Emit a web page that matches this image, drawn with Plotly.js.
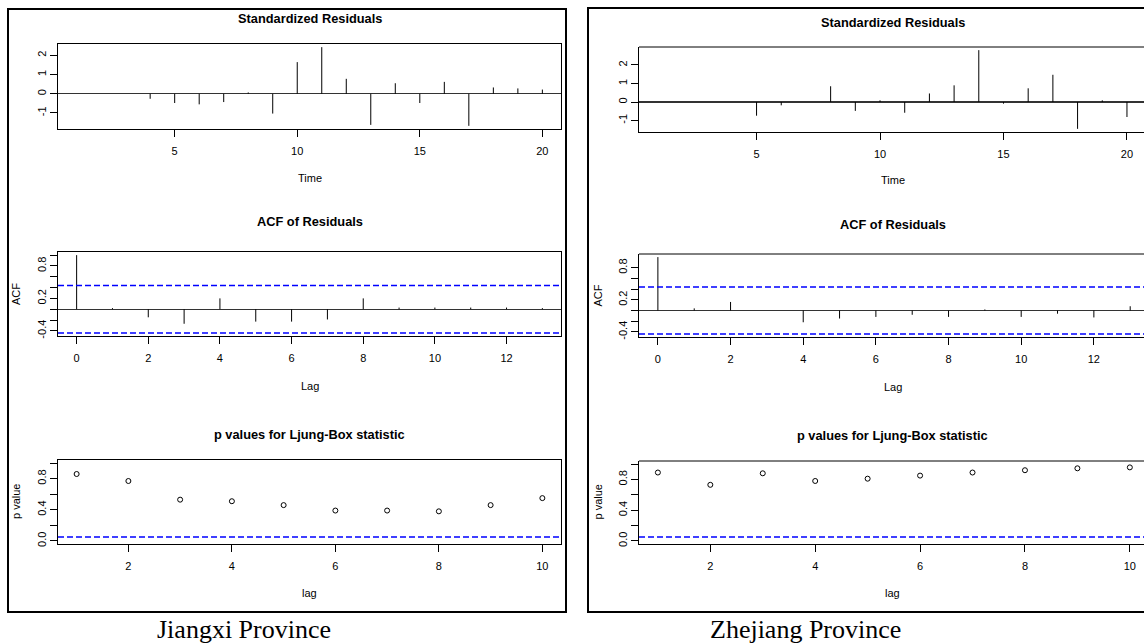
<!DOCTYPE html>
<html>
<head>
<meta charset="utf-8">
<script src="https://cdn.plot.ly/plotly-3.0.1.min.js"></script>
<style>
html,body{margin:0;padding:0;background:#fff;}
#chart{width:1144px;height:644px;}
</style>
</head>
<body>
<div id="chart"></div>
<script>
// ---------------- data ----------------
const times = [1,2,3,4,5,6,7,8,9,10,11,12,13,14,15,16,17,18,19,20];
const jiangxiResid = [0,0,0,-0.26,-0.48,-0.55,-0.43,0.07,-1.03,1.65,2.43,0.78,-1.62,0.55,-0.48,0.62,-1.67,0.33,0.28,0.22];
const zhejiangResid = [0,0,0,0,-0.74,-0.18,0,0.85,-0.48,0.09,-0.58,0.46,0.90,2.80,-0.09,0.74,1.47,-1.45,0.09,-0.81];

const acfLags = [0,1,2,3,4,5,6,7,8,9,10,11,12,13];
const jiangxiAcf = [1.0,0.02,-0.15,-0.27,0.20,-0.23,-0.23,-0.19,0.20,0.03,0.03,0.03,0.03,0.02];
const zhejiangAcf = [1.0,0.04,0.16,0,-0.22,-0.15,-0.12,-0.08,-0.12,0.02,-0.12,-0.06,-0.13,0.08];

const pLags = [1,2,3,4,5,6,7,8,9,10];
const jiangxiP = [0.86,0.77,0.53,0.51,0.46,0.39,0.39,0.38,0.46,0.55];
const zhejiangP = [0.89,0.73,0.88,0.78,0.81,0.85,0.89,0.92,0.945,0.957];

const nObs = 20;
const acfBound = 1.96 / Math.sqrt(nObs);
const pThreshold = 0.05;

const panelTitles = ["Standardized Residuals","ACF of Residuals","p values for Ljung-Box statistic"];
const xLabels = ["Time","Lag","lag"];
const yLabels = ["","ACF","p value"];
const captions = ["Jiangxi Province","Zhejiang Province"];

// ---------------- helpers ----------------
function spikes(xs, ys){
  const X=[],Y=[];
  xs.forEach((x,i)=>{X.push(x,x,null);Y.push(0,ys[i],null);});
  return {X,Y};
}
const W=1144,H=644;
const px = v=>v/W, py = v=>1-v/H;

const tickFont = {family:"Liberation Sans, Arial, sans-serif", size:11, color:"#000"};
const lblFont = {family:"Liberation Sans, Arial, sans-serif", size:11, color:"#000"};
const titleFont = {family:"Liberation Sans, Arial, sans-serif", size:12.8, color:"#000", weight:"bold"};

// geometry (pixels)
const colX = [[58,561],[639,1144]];
const rowY = [[[44,129],[252,336],[460,544]],[[47,132],[254,337],[461,544]]];
const titleY = [[19,221,434],[22,224,435]];
const xLabY = [[178,386,593],[180,387,593]];

const traces=[];
const layout = {
  width:W,height:H,margin:{l:0,r:0,t:0,b:0},
  paper_bgcolor:"#fff",plot_bgcolor:"#fff",showlegend:false,
  shapes:[],annotations:[]
};

const resids=[jiangxiResid,zhejiangResid];
const acfs=[jiangxiAcf,zhejiangAcf];
const ps=[jiangxiP,zhejiangP];
const xRanges = [
  [[0.24,20.76],[-0.52,13.52],[0.64,10.36]],
  [[0.24,20.69],[-0.52,13.38],[0.64,10.27]]
];
const yRanges = [
  [[-1.834,2.594],[-0.496,1.058],[-0.04,1.04]],
  [[-1.62,2.97],[-0.496,1.058],[-0.04,1.04]]
];
const xTicks = [[5,10,15,20],[0,2,4,6,8,10,12],[2,4,6,8,10]];
const yTickVals = [
  [[-1,0,1,2],[-0.4,-0.2,0,0.2,0.4,0.6,0.8,1.0],[0,0.2,0.4,0.6,0.8,1.0]],
  [[-1,0,1,2],[-0.4,-0.2,0,0.2,0.4,0.6,0.8],[0,0.2,0.4,0.6,0.8,1.0]]
];
const yTickText = [
  [["-1","0","1","2"],["-0.4","","","0.2","","","0.8",""],["0.0","","0.4","","0.8",""]],
  [["-1","0","1","2"],["-0.4","","","0.2","","","0.8"],["0.0","","0.4","","0.8",""]]
];

const dashLine = {color:"rgb(0,0,255)",width:1.5,dash:"6px,3px"};

let k=0;
for(let c=0;c<2;c++){
  for(let r=0;r<3;r++){
    k++;
    const xa = k===1?"x":"x"+k, ya = k===1?"y":"y"+k;
    const xKey = k===1?"xaxis":"xaxis"+k, yKey = k===1?"yaxis":"yaxis"+k;
    const box = rowY[c][r];
    layout[xKey] = {
      domain:[px(colX[c][0]),px(colX[c][1])], anchor:ya, range:xRanges[c][r],
      tickmode:"array", tickvals:xTicks[r], ticks:"outside", ticklen:7, tickwidth:1, tickcolor:"#000",
      ticklabelstandoff:5,
      showline:true, linecolor:"#000", linewidth:1, mirror:c===0,
      showgrid:false, zeroline:false, tickfont:tickFont, fixedrange:true
    };
    layout[yKey] = {
      domain:[py(box[1]),py(box[0])], anchor:xa, range:yRanges[c][r],
      tickmode:"array", tickvals:yTickVals[c][r], ticktext:yTickText[c][r],
      ticks:"outside", ticklen:7, tickwidth:1, tickcolor:"#000", tickangle:-90,
      showline:true, linecolor:"#000", linewidth:1, mirror:c===0,
      showgrid:false, zeroline:r<2, zerolinecolor:"#333", zerolinewidth:1.3,
      tickfont:tickFont, fixedrange:true
    };
    if(c===1){
      layout.shapes.push({type:"line",xref:xa+" domain",yref:ya+" domain",x0:0,x1:1.01,y0:1,y1:1,line:{color:"#000",width:1}});
    }
    if(r===0){
      const s=spikes(times,resids[c]);
      traces.push({x:s.X,y:s.Y,xaxis:xa,yaxis:ya,mode:"lines",line:{color:"#000",width:1},hoverinfo:"skip"});
    } else if(r===1){
      const s=spikes(acfLags,acfs[c]);
      traces.push({x:s.X,y:s.Y,xaxis:xa,yaxis:ya,mode:"lines",line:{color:"#000",width:1},hoverinfo:"skip"});
      [acfBound,-acfBound].forEach(b=>layout.shapes.push({type:"line",layer:"above",xref:xa+" domain",yref:ya,x0:0,x1:1,y0:b,y1:b,line:Object.assign({},dashLine)}));
    } else {
      traces.push({x:pLags,y:ps[c],xaxis:xa,yaxis:ya,mode:"markers",marker:{symbol:"circle-open",size:5,color:"#000",line:{width:1,color:"#000"}},hoverinfo:"skip"});
      layout.shapes.push({type:"line",layer:"above",xref:xa+" domain",yref:ya,x0:0,x1:1,y0:pThreshold,y1:pThreshold,line:Object.assign({},dashLine)});
    }
    const cx = (colX[c][0]+ (c===0?colX[c][1]:1146))/2;
    layout.annotations.push({text:"<b>"+panelTitles[r]+"</b>",xref:"paper",yref:"paper",x:px(cx),y:py(titleY[c][r]),xanchor:"center",yanchor:"middle",showarrow:false,font:titleFont});
    layout.annotations.push({text:xLabels[r],xref:"paper",yref:"paper",x:px(cx),y:py(xLabY[c][r]),xanchor:"center",yanchor:"middle",showarrow:false,font:lblFont});
    if(yLabels[r]){
      layout.annotations.push({text:yLabels[r],xref:"paper",yref:"paper",x:px(colX[c][0]-42),y:py((box[0]+box[1])/2),xanchor:"center",yanchor:"middle",textangle:-90,showarrow:false,font:lblFont});
    }
  }
}
// outer frames
layout.shapes.push({type:"rect",xref:"paper",yref:"paper",x0:px(8),x1:px(566),y0:py(612),y1:py(9),line:{color:"#000",width:2}});
layout.shapes.push({type:"rect",xref:"paper",yref:"paper",x0:px(588),x1:px(1150),y0:py(612),y1:py(8),line:{color:"#000",width:2}});
// captions
const capFont={family:"Liberation Serif, Times New Roman, serif",size:26,color:"#000"};
layout.annotations.push({text:captions[0],xref:"paper",yref:"paper",x:px(244),y:py(629),xanchor:"center",yanchor:"middle",showarrow:false,font:capFont});
layout.annotations.push({text:captions[1],xref:"paper",yref:"paper",x:px(805),y:py(629),xanchor:"center",yanchor:"middle",showarrow:false,font:capFont});

Plotly.newPlot("chart",traces,layout,{staticPlot:true,displayModeBar:false});
</script>
</body>
</html>
